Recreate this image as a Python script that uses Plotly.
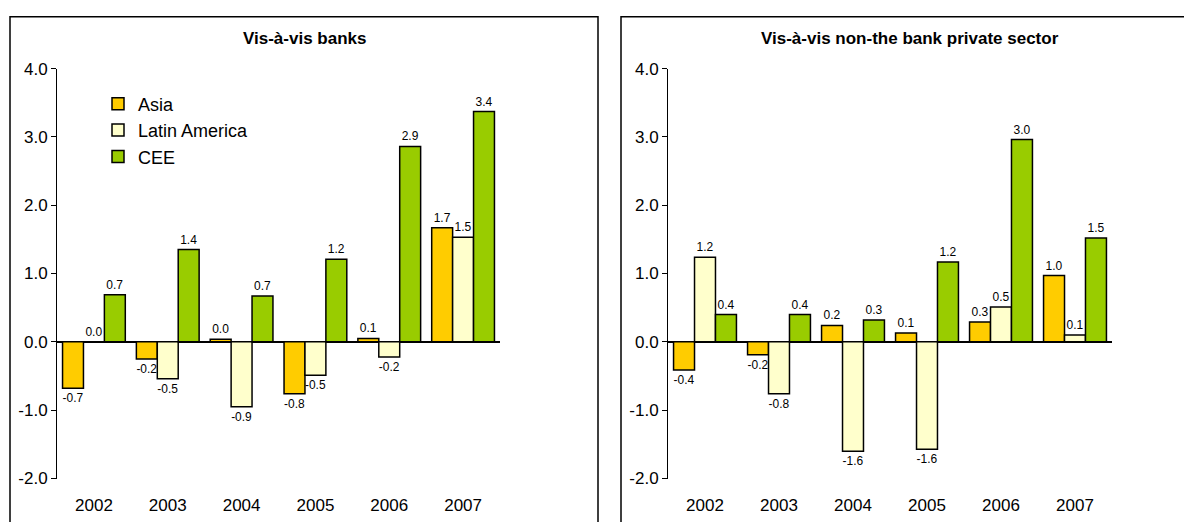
import plotly.graph_objects as go

years = ["2002", "2003", "2004", "2005", "2006", "2007"]
series = ["Asia", "Latin America", "CEE"]
colors = ["#FFCC00", "#FFFFCC", "#99CC00"]

banks_asia = [-0.68, -0.25, 0.04, -0.76, 0.05, 1.67]
banks_latam = [0.0, -0.54, -0.95, -0.49, -0.22, 1.53]
banks_cee = [0.69, 1.35, 0.67, 1.21, 2.86, 3.37]

nonbank_asia = [-0.41, -0.19, 0.24, 0.13, 0.29, 0.97]
nonbank_latam = [1.24, -0.76, -1.60, -1.57, 0.51, 0.10]
nonbank_cee = [0.40, 0.40, 0.32, 1.17, 2.96, 1.52]

titles = ["Vis-à-vis banks", "Vis-à-vis non-the bank private sector"]
yticks = [-2.0, -1.0, 0.0, 1.0, 2.0, 3.0, 4.0]

W, H = 1184, 522


def py(p):
    # target pixel row -> paper fraction (compensating observed render scale)
    q = (p - 7.3) / 0.966
    return 1 - q / H


fig = go.Figure()
panels = [(banks_asia, banks_latam, banks_cee), (nonbank_asia, nonbank_latam, nonbank_cee)]
for p, data in enumerate(panels):
    xa = "x" if p == 0 else "x2"
    ya = "y" if p == 0 else "y2"
    for i, vals in enumerate(data):
        fig.add_trace(go.Bar(
            x=years, y=vals, name=series[i], marker_color=colors[i],
            marker_line=dict(color="black", width=1.5),
            text=[f"{v:.1f}" for v in vals], textposition="outside",
            textfont=dict(size=12, color="black"), cliponaxis=False,
            showlegend=(p == 0), xaxis=xa, yaxis=ya))

ydom = [py(478), py(67)]
common_x = dict(showline=False, ticks="", tickfont=dict(size=17, color="black"),
                showgrid=False, ticklabelstandoff=14)
common_y = dict(range=[-2, 4], tickvals=yticks, ticktext=[f"{t:.1f}" for t in yticks],
                showline=True, linecolor="black", linewidth=1, ticks="outside",
                ticklen=5, tickcolor="black", showgrid=False, zeroline=True,
                zerolinecolor="black", zerolinewidth=1.5, tickfont=dict(size=17, color="black"),
                domain=ydom)
fig.update_layout(
    width=W, height=H, margin=dict(l=0, r=0, t=0, b=0),
    plot_bgcolor="white", paper_bgcolor="white",
    font=dict(family="Liberation Sans, Arial", color="black"),
    barmode="group", bargap=0.15, bargroupgap=0,
    xaxis=dict(domain=[57 / W, 500 / W], anchor="y", **common_x),
    xaxis2=dict(domain=[668 / W, 1112 / W], anchor="y2", **common_x),
    yaxis=dict(anchor="x", **common_y),
    yaxis2=dict(anchor="x2", **common_y),
    legend=dict(x=98 / W, y=py(84), xanchor="left", yanchor="top",
                font=dict(size=18), bgcolor="rgba(0,0,0,0)", tracegroupgap=0,
                itemwidth=30),
)
fig.add_shape(type="rect", xref="paper", yref="paper", x0=10 / W, x1=598 / W, y0=-0.1, y1=py(15),
              line=dict(color="black", width=1.5))
fig.add_shape(type="rect", xref="paper", yref="paper", x0=621 / W, x1=1.05, y0=-0.1, y1=py(15),
              line=dict(color="black", width=1.5))
fig.add_annotation(text="<b>" + titles[0] + "</b>", xref="paper", yref="paper",
                   x=(10 + 598) / 2 / W, y=py(37), xanchor="center", yanchor="middle",
                   showarrow=False, font=dict(size=17))
fig.add_annotation(text="<b>" + titles[1] + "</b>", xref="paper", yref="paper",
                   x=910 / W, y=py(37), xanchor="center", yanchor="middle",
                   showarrow=False, font=dict(size=17))
fig.write_html("out.html", config={"displayModeBar": False},
               post_script="document.body.style.margin='0';document.body.style.overflow='hidden';")
